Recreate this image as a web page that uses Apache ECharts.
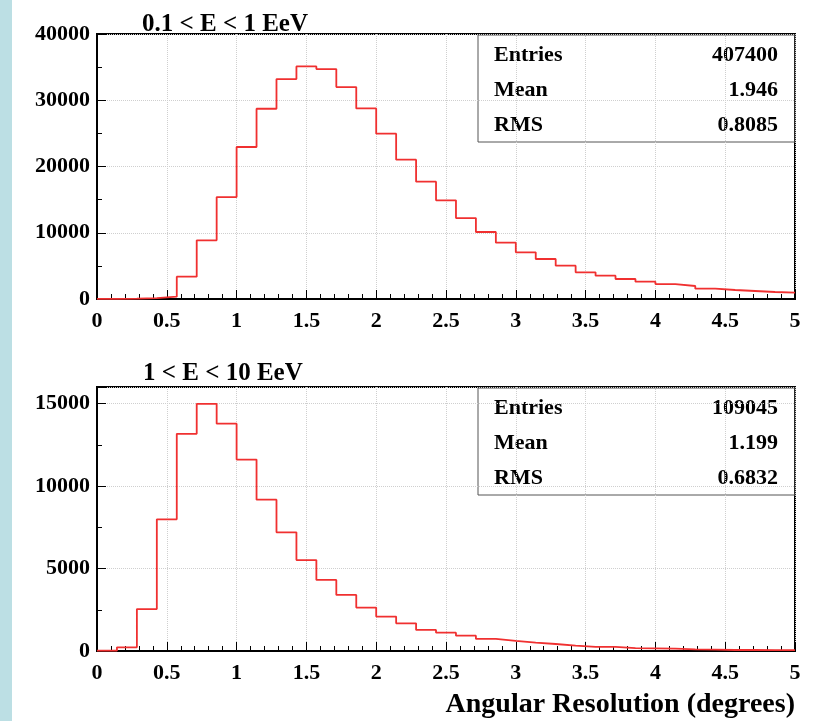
<!DOCTYPE html>
<html>
<head>
<meta charset="utf-8">
<script src="https://cdn.jsdelivr.net/npm/echarts@6/dist/echarts.min.js"></script>
<style>
html, body { margin: 0; padding: 0; background: #fff; }
#strip { position: absolute; left: 0; top: 0; width: 12px; height: 721px; background: #bcdfe4; }
#chart { position: relative; width: 818px; height: 721px; }
</style>
</head>
<body>
<div id="strip"></div>
<div id="chart"></div>
<script>
// binning: 35 bins over 0..5 degrees
var xMin = 0, xMax = 5, nBins = 35;
var binWidth = (xMax - xMin) / nBins;

// 0.1 < E < 1 EeV
var countsLow = [30, 60, 120, 350, 3370, 8850, 15390, 22940, 28720, 33200, 35110, 34710, 31990, 28770,
  24950, 21030, 17710, 14890, 12220, 10110, 8500, 7040, 6040, 5030, 4020, 3520, 3020, 2620, 2260,
  1960, 1560, 1360, 1210, 1060, 960];
// 1 < E < 10 EeV
var countsHigh = [20, 220, 2540, 7980, 13160, 14980, 13780, 11600, 9170, 7190, 5510, 4310, 3400, 2630,
  2085, 1680, 1275, 1110, 930, 730, 610, 505, 425, 325, 245, 250, 180, 160, 140, 100, 80, 60, 60, 50, 50];

var titles = ['0.1 < E < 1 EeV', '1 < E < 10 EeV'];
var statNames = ['Entries', 'Mean', 'RMS'];
var statsLow = ['407400', '1.946', '0.8085'];
var statsHigh = ['109045', '1.199', '0.6832'];
var xName = 'Angular Resolution (degrees)';

var font = 'Liberation Serif';
var lineColor = '#f03030';

// bin edges -> step points
function stepData(counts) {
  var pts = counts.map(function (v, i) { return [xMin + i * binWidth, v]; });
  pts.push([xMax, counts[counts.length - 1]]);
  return pts;
}

function xAxisCfg(idx) {
  return {
    type: 'value', gridIndex: idx, min: xMin, max: xMax, interval: 0.5,
    axisLine: { show: true, onZero: false, lineStyle: { color: '#000', width: 2 } },
    axisTick: { inside: true, length: 9, lineStyle: { color: '#000', width: 1 } },
    minorTick: { show: true, splitNumber: 5, length: 5, lineStyle: { color: '#000', width: 1 } },
    axisLabel: { color: '#000', fontFamily: font, fontWeight: 'bold', fontSize: 22, margin: 11 },
    splitLine: { show: true, lineStyle: { color: '#cfcfcf', type: 'dotted', width: 1 } }
  };
}

function yAxisCfg(idx, max, interval) {
  return {
    type: 'value', gridIndex: idx, min: 0, max: max, interval: interval,
    axisLine: { show: true, onZero: false, lineStyle: { color: '#000', width: 2 } },
    axisTick: { inside: true, length: 9, lineStyle: { color: '#000', width: 1 } },
    minorTick: { show: true, splitNumber: 2, length: 5, lineStyle: { color: '#000', width: 1 } },
    axisLabel: {
      color: '#000', fontFamily: font, fontWeight: 'bold', fontSize: 22, margin: 7,
      formatter: function (v) { return v % interval === 0 ? String(v) : ''; }
    },
    splitLine: { show: true, lineStyle: { color: '#cfcfcf', type: 'dotted', width: 1 } }
  };
}

function statsBox(top, values) {
  var items = [{
    type: 'rect', shape: { x: 478, y: top, width: 317, height: 107 },
    style: { fill: 'none', stroke: '#555', lineWidth: 1 }
  }];
  statNames.forEach(function (n, i) {
    var y = top + 20 + i * 35;
    items.push({ type: 'text', x: 494, y: y,
      style: { text: n, font: 'bold 22px "' + font + '"', fill: '#000', textVerticalAlign: 'middle' } });
    items.push({ type: 'text', x: 778, y: y,
      style: { text: values[i], font: 'bold 22px "' + font + '"', fill: '#000', textAlign: 'right', textVerticalAlign: 'middle' } });
  });
  return items;
}

var chart = echarts.init(document.getElementById('chart'));
var gridCommon = { left: 97, right: 23, show: true, borderColor: '#000', borderWidth: 2 };

var option = {
  animation: false,
  title: [
    { text: titles[0], left: 137, top: 7, textStyle: { fontFamily: font, fontWeight: 'bold', fontSize: 25, color: '#000' } },
    { text: titles[1], left: 138, top: 356, textStyle: { fontFamily: font, fontWeight: 'bold', fontSize: 25, color: '#000' } }
  ],
  grid: [
    Object.assign({ top: 34, height: 265 }, gridCommon),
    Object.assign({ top: 387, height: 264 }, gridCommon)
  ],
  xAxis: [xAxisCfg(0), xAxisCfg(1)],
  yAxis: [yAxisCfg(0, 40000, 10000), yAxisCfg(1, 16000, 5000)],
  series: [
    { type: 'line', xAxisIndex: 0, yAxisIndex: 0, step: 'end', showSymbol: false,
      lineStyle: { color: lineColor, width: 1.8 }, data: stepData(countsLow) },
    { type: 'line', xAxisIndex: 1, yAxisIndex: 1, step: 'end', showSymbol: false,
      lineStyle: { color: lineColor, width: 1.8 }, data: stepData(countsHigh) }
  ],
  graphic: statsBox(35, statsLow).concat(statsBox(388, statsHigh)).concat([
    { type: 'text', x: 795, y: 705,
      style: { text: xName, font: 'bold 28px "' + font + '"', fill: '#000', textAlign: 'right', textVerticalAlign: 'middle' } }
  ])
};
chart.setOption(option);
</script>
</body>
</html>
